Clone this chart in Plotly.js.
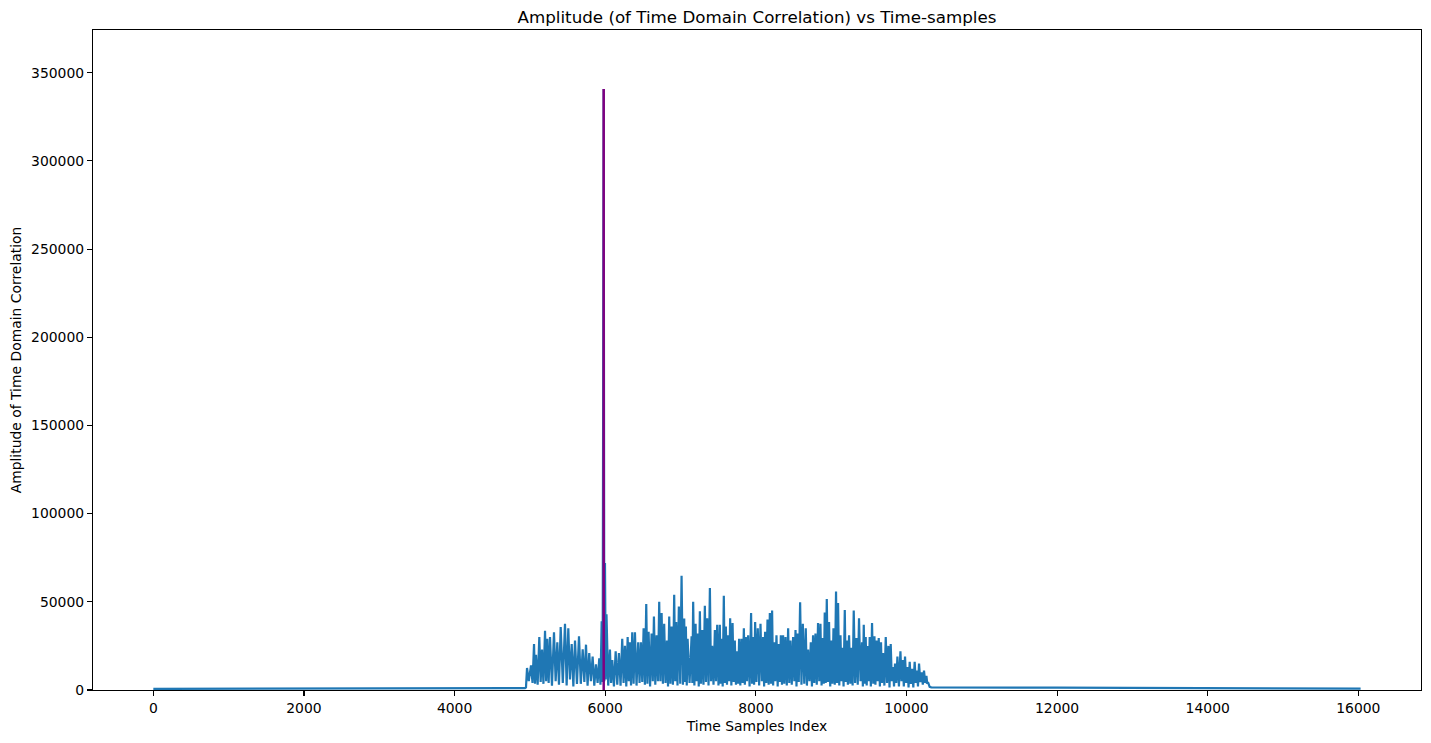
<!DOCTYPE html>
<html>
<head>
<meta charset="utf-8">
<script src="https://cdn.plot.ly/plotly-3.0.1.min.js"></script>
<style>
html,body{margin:0;padding:0;background:#fff;}
#chart{width:1431px;height:743px;}
</style>
</head>
<body>
<div id="chart"></div>
<script>
// Time samples index of the correlation trace
const sampleIndex = [
0,1000,2000,3000,4000,4900,4935,
4948,4962,4985,5015,5035,5055,5068,5081,5103,5125,5143,5161,5180,5201,5216,5231,5249,5267,5293,5320,5342,5364,5386,5409,5437,5466,5488,5510,5532,5555,5577,5599,5625,5652,5676,5701,5723,5745,5766,5788,5810,5833,5855,5877,5899,5921,5937,5953,5966,5980,5988,5997,6007,6017,
6040,6063,6078,6094,6116,6139,6160,6182,6204,6226,6244,6262,6280,6298,6313,6328,6343,6359,6377,6395,6416,6438,6456,6474,6492,6510,6527,6545,6560,6576,6596,6616,6632,6647,6665,6683,6700,6717,6733,6749,6766,6783,6801,6819,6834,6850,6866,6882,6899,6916,6930,6943,6960,6978,6996,7014,7032,7049,7060,7071,7083,7094,
7120,7147,7157,7168,7184,7200,7213,7227,7242,7257,7272,7288,7305,7323,7338,7354,7372,7390,7405,7420,7438,7456,7471,7487,7504,7522,7533,7545,7560,7575,7588,7602,7617,7632,7645,7659,7675,7691,7706,7721,7736,7752,7765,7778,7794,7810,7825,7841,7854,7867,7882,7898,7917,7937,7950,7964,7977,7991,
8008,8026,8044,8062,8080,8097,8110,8123,8139,8155,8170,8186,8201,8216,8230,8243,8258,8274,8290,8305,8318,8332,8347,8362,8378,8394,8411,8429,8444,8460,8477,8495,8511,8527,8540,8553,8570,8588,8606,8624,8643,8663,8678,8694,8712,8730,8745,8760,8776,8792,8809,8826,8842,8858,8873,8889,8902,8915,8928,8942,8957,8972,8988,
9004,9017,9031,9048,9065,9078,9092,9108,9124,9137,9150,9165,9181,9194,9207,9222,9238,9254,9270,9285,9300,9318,9336,9353,9370,9390,9410,9421,9433,9446,9459,9472,9486,9499,9512,9527,9543,9559,9575,9588,9601,9616,9632,9647,9662,9675,9689,9707,9725,9742,9760,9775,9791,9806,9822,9835,9848,9864,9880,9900,9920,9935,9950,9965,9981,9997,
10013,10028,10043,10058,10074,10091,10109,10124,10140,10153,10167,10184,10202,10217,10233,10249,10265,10276,10286,10308,10330,12000,14000,16030
];
// Amplitude of time domain correlation
const amplitude = [
600,650,700,750,850,1000,1100,
1500,12500,5000,14000,4000,26000,3500,20000,3000,30000,4500,23000,3500,33600,5000,29000,4000,30000,2500,32700,5000,27000,3000,35700,4000,37600,2500,35000,6000,26000,2000,28000,3500,30400,3500,23000,4500,25700,2500,21000,5000,19000,2500,14500,4000,18000,3000,39000,4500,340800,5000,72000,6000,43000,
2500,22900,4000,17000,2000,22000,3000,21000,2500,29000,4000,25000,2000,30000,5000,27000,2500,32700,3500,32700,2500,27000,4000,27000,4500,35000,3000,48800,3500,33000,2000,32000,5000,41700,3000,31000,5000,50000,5000,43600,3500,37600,4000,28000,2000,41700,3500,36000,3000,54000,5000,38600,2500,47400,3500,64800,3000,40600,4500,36000,2500,29000,
4000,30400,4000,50000,2500,37600,5000,32000,2000,44600,3500,34000,3000,47800,4500,40600,2500,57800,5000,25000,3000,34000,5000,37000,2500,37000,3500,29000,2000,53500,4000,36000,3000,31000,5000,40600,2500,38000,4500,28000,3000,22000,3500,29000,2500,29000,4000,35000,3000,30000,5000,31000,2000,43600,3500,30000,3000,38600,
4500,35000,2500,37600,5000,30000,2000,33000,4000,40000,3000,43600,3500,45000,2500,27000,5000,31000,2000,26000,4500,31000,3000,31000,3500,30000,2500,35000,4000,28000,3000,30000,5000,34000,2000,32000,4500,49700,3000,37600,3500,35000,2500,23000,5000,27000,2000,31000,4000,32000,3000,38000,5000,37600,2500,29500,3500,44000,4000,51600,4500,38600,2000,
28000,3500,35000,3000,55900,4000,49300,2500,31000,5000,24000,2000,45400,4500,28000,3000,31000,3500,24000,2500,45000,4000,29500,3000,40600,5000,27000,2000,37000,3500,30000,2500,25000,5000,30000,2000,38000,3500,30500,3000,28000,5000,29500,2000,27000,4000,21000,2500,30000,4000,25000,1500,26000,5000,13000,2000,15000,4000,19000,2000,22000,5000,17000,2000,19000,4000,
13000,1500,16000,3500,12000,1500,16000,4000,11000,2000,15000,4500,10000,3000,11000,4000,8000,3500,4500,1800,1500,1300,1000,750
];
// Detected peak marker (vertical line at the correlation maximum)
const peakIndex = [5980, 5980];
const peakLine = [0, 340800];

const xTicks = [0,2000,4000,6000,8000,10000,12000,14000,16000];
const yTicks = [0,50000,100000,150000,200000,250000,300000,350000];

const font = {family: 'DejaVu Sans, sans-serif', size: 13.9, color: '#000'};

const traces = [
  {x: sampleIndex, y: amplitude, type: 'scatter', mode: 'lines',
   line: {color: '#1f77b4', width: 2.2}, hoverinfo: 'x+y', showlegend: false},
  {x: peakIndex, y: peakLine, type: 'scatter', mode: 'lines',
   line: {color: '#800080', width: 2.5}, showlegend: false}
];

const layout = {
  width: 1431, height: 743,
  paper_bgcolor: '#fff', plot_bgcolor: '#fff',
  margin: {l: 93, r: 10, t: 30, b: 53, pad: 0},
  font: font,
  showlegend: false,
  title: {text: 'Amplitude (of Time Domain Correlation) vs Time-samples',
          font: {family: 'DejaVu Sans, sans-serif', size: 16.7, color: '#000'},
          x: 0.529, xanchor: 'center', xref: 'container',
          y: 0.977, yanchor: 'middle', yref: 'container'},
  xaxis: {
    range: [-801, 16832], tickvals: xTicks, ticktext: xTicks.map(String),
    ticks: 'outside', ticklen: 5, tickwidth: 1.1, tickcolor: '#000',
    showline: true, linecolor: '#000', linewidth: 1.1, mirror: true,
    showgrid: false, zeroline: false, automargin: false,
    tickfont: font,
    title: {text: 'Time Samples Index', font: font, standoff: 6}
  },
  yaxis: {
    range: [0, 374200], tickvals: yTicks, ticktext: yTicks.map(String),
    ticks: 'outside', ticklen: 5, tickwidth: 1.1, tickcolor: '#000',
    showline: true, linecolor: '#000', linewidth: 1.1, mirror: true,
    showgrid: false, zeroline: false, automargin: false,
    tickfont: font,
    title: {text: 'Amplitude of Time Domain Correlation', font: font, standoff: 6}
  }
};

Plotly.newPlot('chart', traces, layout, {staticPlot: true, displayModeBar: false});
</script>
</body>
</html>
